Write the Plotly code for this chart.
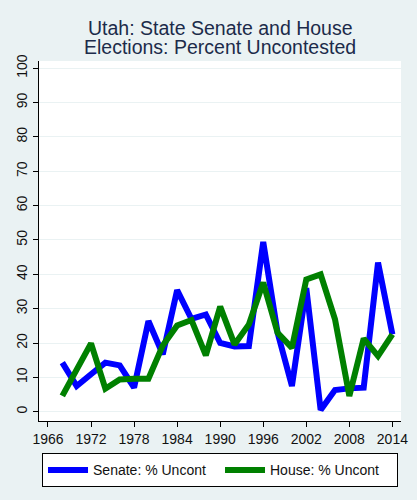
import plotly.graph_objects as go

### Data: election years and percent of seats uncontested
years = list(range(1968, 2015, 2))

senate = [14.3, 7.5, 10.9, 14.3, 13.5, 7.0, 26.4, 16.7, 35.4, 27.0, 28.3, 20.0,
          19.0, 19.1, 49.4, 23.0, 7.5, 36.0, 0.5, 6.3, 6.8, 7.0, 43.4, 22.5]

house = [4.6, 12.3, 19.9, 6.7, 9.4, 9.6, 9.6, 19.3, 25.1, 26.7, 16.4, 30.6,
         19.6, 25.4, 37.6, 23.0, 18.6, 38.5, 40.0, 26.9, 4.6, 21.3, 16.2, 22.5]

x_ticks = list(range(1966, 2015, 6))
y_ticks = list(range(0, 101, 10))

title_lines = ["Utah: State Senate and House", "Elections: Percent Uncontested"]

font_name = "Liberation Sans, Arial, sans-serif"
bg = "#EAF2F3"
title_col = "#1c2b4a"

fig = go.Figure()
fig.add_trace(go.Scatter(x=years, y=senate, mode="lines", name="Senate: % Uncont",
                         line=dict(color="#0000FF", width=6)))
fig.add_trace(go.Scatter(x=years, y=house, mode="lines", name="House: % Uncont",
                         line=dict(color="#008000", width=6)))

# two title lines as separate annotations (tighter line spacing than <br>)
for txt, ypos in zip(title_lines, [1.093, 1.040]):
    fig.add_annotation(text=txt, xref="paper", yref="paper", x=0.5, y=ypos,
                       xanchor="center", yanchor="middle", showarrow=False,
                       font=dict(size=19.5, color=title_col))

fig.update_layout(
    width=417, height=500,
    paper_bgcolor=bg, plot_bgcolor="white",
    margin=dict(l=39, r=16, t=61, b=79, autoexpand=False),
    font=dict(family=font_name, color="#111111"),
    showlegend=True,
    legend=dict(orientation="h", xref="container", x=0.5276, xanchor="center",
                yref="paper", y=-0.09, yanchor="top",
                bgcolor="white", bordercolor="black", borderwidth=1,
                entrywidth=122, itemwidth=40,
                font=dict(size=14, color="#111111")),
    xaxis=dict(range=[1964.75, 2015.2], tickvals=x_ticks, showgrid=False,
               zeroline=False, showline=True, linecolor="black", linewidth=1,
               ticks="outside", ticklen=5, tickcolor="black",
               tickfont=dict(size=14)),
    yaxis=dict(range=[-2.7, 102.1], tickvals=y_ticks, showgrid=True,
               gridcolor=bg, gridwidth=1, zeroline=False,
               showline=True, linecolor="black", linewidth=1,
               ticks="outside", ticklen=5, tickcolor="black",
               tickangle=-90, tickfont=dict(size=14)),
)

# drop the browser's default page margin so the figure sits at the window's corner
fig.write_html("out.html", config={"displayModeBar": False},
               post_script="document.body.style.margin='0';"
                           "document.body.style.background='%s';" % bg)
